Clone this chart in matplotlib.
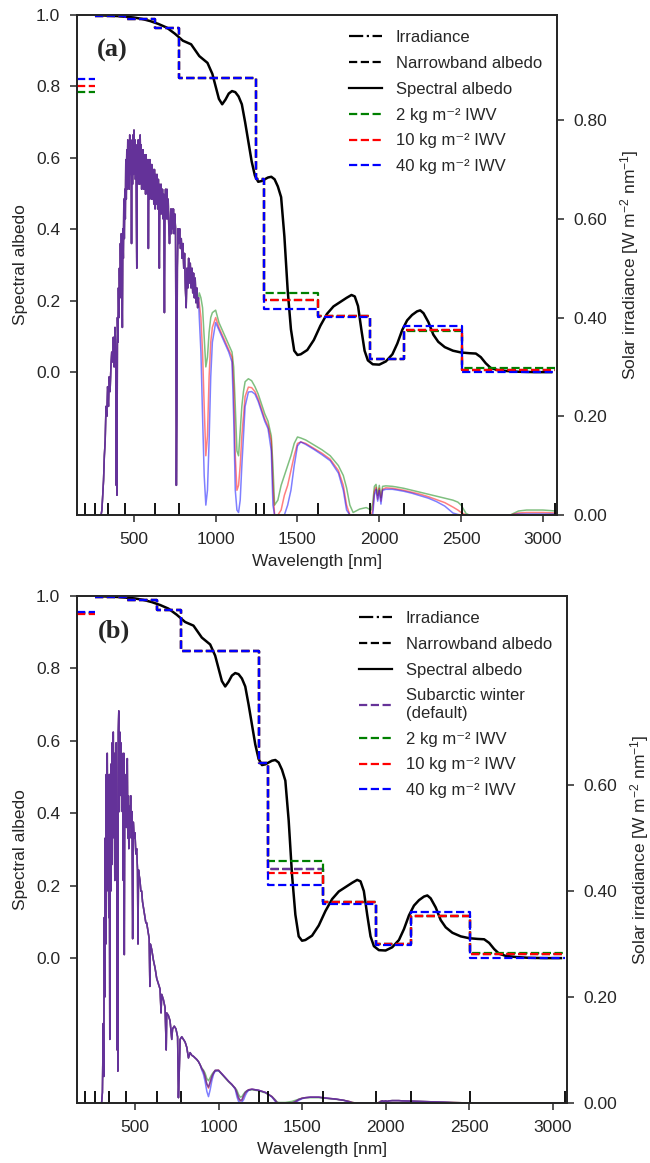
import numpy as np
import matplotlib
matplotlib.use("Agg")
import matplotlib.pyplot as plt
from matplotlib.lines import Line2D
from matplotlib.ticker import FormatStrFormatter

plt.rcParams['font.family'] = ['Liberation Sans', 'DejaVu Sans']
plt.rcParams['mathtext.fontset'] = 'custom'
plt.rcParams['mathtext.rm'] = 'Liberation Sans'
plt.rcParams['mathtext.it'] = 'Liberation Sans:italic'
plt.rcParams['mathtext.default'] = 'regular'
plt.rcParams['text.color'] = '.15'
plt.rcParams['axes.labelcolor'] = '.15'
plt.rcParams['xtick.color'] = '.15'
plt.rcParams['ytick.color'] = '.15'
plt.rcParams['axes.edgecolor'] = '.15'

# narrowband edges (nm), marked as inner ticks on the x axis
band_edges = [200, 260, 345, 445, 630, 777, 1245, 1295, 1628, 1945, 2150, 2503, 3075]
x_range = (153, 3086)

# spectral albedo (same snowpack in both panels)
alb_wl = [270, 300, 350, 400, 450, 500, 550, 600, 650, 700,
          750, 800, 850, 900, 950, 980, 1000, 1020, 1040, 1060,
          1080, 1100, 1120, 1140, 1160, 1180, 1200, 1220, 1240, 1260,
          1280, 1300, 1320, 1340, 1360, 1380, 1400, 1420, 1440, 1460,
          1480, 1500, 1520, 1560, 1600, 1640, 1680, 1720, 1760, 1800,
          1830, 1850, 1870, 1890, 1910, 1930, 1960, 2000, 2040, 2080,
          2110, 2140, 2170, 2200, 2230, 2250, 2270, 2300, 2330, 2360,
          2400, 2450, 2500, 2550, 2590, 2620, 2650, 2680, 2720, 2780,
          2850, 2950, 3050]
alb_val = [0.999, 0.999, 0.998, 0.997, 0.995, 0.993, 0.989, 0.983, 0.975, 0.965,
           0.948, 0.928, 0.918, 0.885, 0.866, 0.835, 0.800, 0.765, 0.750, 0.763,
           0.780, 0.787, 0.784, 0.772, 0.750, 0.700, 0.645, 0.590, 0.550, 0.533,
           0.535, 0.540, 0.545, 0.547, 0.540, 0.520, 0.490, 0.380, 0.230, 0.120,
           0.060, 0.048, 0.050, 0.062, 0.090, 0.130, 0.163, 0.184, 0.196, 0.208,
           0.216, 0.212, 0.185, 0.120, 0.060, 0.033, 0.022, 0.021, 0.030, 0.050,
           0.080, 0.118, 0.145, 0.160, 0.170, 0.173, 0.165, 0.140, 0.105, 0.085,
           0.070, 0.060, 0.055, 0.053, 0.052, 0.042, 0.025, 0.012, 0.006, 0.003,
           0.001, 0.000, 0.000]

# narrowband albedo per band, panel (a)
nb_black_a = [np.nan, 0.998, 0.997, 0.989, 0.963, 0.823, 0.541, 0.203, 0.156, 0.038, 0.119, 0.007]
nb_2_a = [0.785, 0.998, 0.997, 0.989, 0.963, 0.823, 0.541, 0.222, 0.157, 0.038, 0.114, 0.012]
nb_10_a = [0.800, 0.998, 0.997, 0.989, 0.963, 0.823, 0.541, 0.203, 0.156, 0.038, 0.119, 0.007]
nb_40_a = [0.820, 0.998, 0.997, 0.989, 0.963, 0.823, 0.541, 0.178, 0.153, 0.036, 0.130, 0.000]

# narrowband albedo per band, panel (b)
nb_black_b = [np.nan, 0.997, 0.997, 0.990, 0.962, 0.848, 0.539, 0.245, 0.154, 0.038, 0.117, 0.010]
nb_def_b = [0.952, 0.997, 0.997, 0.990, 0.962, 0.848, 0.539, 0.245, 0.154, 0.038, 0.117, 0.010]
nb_2_b = [0.952, 0.997, 0.997, 0.990, 0.962, 0.849, 0.539, 0.269, 0.156, 0.038, 0.115, 0.013]
nb_10_b = [0.951, 0.997, 0.997, 0.990, 0.962, 0.848, 0.539, 0.234, 0.154, 0.038, 0.117, 0.010]
nb_40_b = [0.956, 0.997, 0.997, 0.990, 0.962, 0.848, 0.539, 0.203, 0.149, 0.036, 0.128, 0.000]

# irradiance, visible part (shared by all IWV runs), panel (a)
vis_wl_a = [295, 300, 305, 310, 315, 320, 325, 330, 335, 340,
            345, 350, 355, 360, 365, 370, 375, 380, 385, 390,
            393, 395, 397, 400, 403, 406, 409, 412, 415, 418,
            421, 424, 427, 430, 433, 436, 439, 442, 445, 448,
            451, 454, 457, 460, 463, 466, 469, 472, 475, 478,
            481, 484, 486, 489, 492, 495, 498, 501, 504, 507,
            510, 513, 516, 518, 521, 524, 527, 530, 533, 536,
            539, 542, 545, 548, 551, 554, 557, 560, 563, 566,
            569, 572, 575, 578, 581, 584, 587, 589, 592, 595,
            598, 601, 604, 607, 610, 614, 618, 622, 626, 630,
            634, 638, 642, 646, 650, 653, 656, 659, 663, 667,
            671, 675, 679, 683, 687, 690, 694, 698, 702, 706,
            710, 714, 718, 722, 726, 730, 734, 738, 742, 746,
            750, 755, 760, 763, 766, 770, 775, 780, 785, 790,
            795, 800, 805, 810, 815, 820, 825, 830, 835, 840,
            845, 850, 855, 860, 865, 870, 875, 880, 885, 890,
            895]
vis_irr_a = [0.00, 0.00, 0.01, 0.04, 0.07, 0.12, 0.15, 0.22, 0.20, 0.26,
             0.22, 0.28, 0.25, 0.30, 0.33, 0.31, 0.36, 0.30, 0.38, 0.33,
             0.06, 0.30, 0.04, 0.40, 0.35, 0.46, 0.40, 0.50, 0.44, 0.55,
             0.48, 0.57, 0.50, 0.38, 0.58, 0.52, 0.64, 0.56, 0.66, 0.60,
             0.72, 0.64, 0.74, 0.66, 0.76, 0.68, 0.75, 0.66, 0.77, 0.69,
             0.76, 0.68, 0.55, 0.74, 0.67, 0.77, 0.69, 0.78, 0.70, 0.76,
             0.68, 0.75, 0.60, 0.50, 0.74, 0.67, 0.76, 0.68, 0.75, 0.67,
             0.77, 0.69, 0.75, 0.66, 0.74, 0.67, 0.74, 0.66, 0.73, 0.66,
             0.73, 0.65, 0.73, 0.66, 0.72, 0.65, 0.72, 0.54, 0.71, 0.64,
             0.72, 0.65, 0.71, 0.64, 0.71, 0.64, 0.70, 0.63, 0.70, 0.62,
             0.69, 0.63, 0.69, 0.62, 0.68, 0.62, 0.50, 0.67, 0.61, 0.67,
             0.61, 0.66, 0.60, 0.65, 0.41, 0.60, 0.66, 0.60, 0.66, 0.60,
             0.64, 0.58, 0.55, 0.58, 0.62, 0.57, 0.62, 0.58, 0.62, 0.57,
             0.61, 0.58, 0.06, 0.20, 0.50, 0.58, 0.55, 0.58, 0.54, 0.56,
             0.52, 0.55, 0.50, 0.53, 0.46, 0.42, 0.50, 0.46, 0.52, 0.47,
             0.51, 0.46, 0.50, 0.45, 0.49, 0.44, 0.48, 0.43, 0.46, 0.42,
             0.44]

# irradiance, visible part, panel (b) (subarctic winter default)
vis_wl_b = [300, 305, 310, 313, 316, 319, 322, 325, 328, 331,
            334, 337, 340, 343, 346, 349, 352, 355, 358, 361,
            364, 367, 370, 373, 376, 379, 382, 385, 388, 391,
            393, 395, 397, 400, 403, 406, 409, 412, 415, 418,
            421, 424, 427, 430, 433, 436, 439, 442, 445, 448,
            451, 454, 457, 460, 463, 466, 470, 474, 478, 482,
            486, 490, 495, 500, 505, 510, 515, 518, 521, 525,
            530, 535, 540, 545, 550, 555, 560, 565, 570, 575,
            580, 585, 589, 592, 600, 610, 620, 630, 640, 650,
            656, 660, 670, 680, 687, 690, 700, 710, 720, 725,
            735, 745, 755, 760, 765, 770, 780, 790, 800, 810,
            820, 830, 840, 850, 860, 870, 880, 890]
vis_irr_b = [0.00, 0.02, 0.15, 0.05, 0.35, 0.20, 0.50, 0.30, 0.62, 0.40,
             0.66, 0.45, 0.60, 0.35, 0.62, 0.12, 0.58, 0.40, 0.64, 0.45,
             0.68, 0.50, 0.70, 0.55, 0.66, 0.42, 0.64, 0.50, 0.68, 0.45,
             0.10, 0.55, 0.06, 0.70, 0.74, 0.55, 0.70, 0.60, 0.68, 0.58,
             0.66, 0.55, 0.64, 0.42, 0.66, 0.28, 0.62, 0.55, 0.60, 0.52,
             0.60, 0.65, 0.50, 0.58, 0.48, 0.56, 0.52, 0.58, 0.50, 0.55,
             0.31, 0.53, 0.50, 0.51, 0.47, 0.48, 0.44, 0.30, 0.44, 0.43,
             0.42, 0.40, 0.40, 0.38, 0.37, 0.36, 0.35, 0.34, 0.34, 0.33,
             0.32, 0.31, 0.22, 0.30, 0.29, 0.27, 0.255, 0.235, 0.225, 0.215,
             0.17, 0.205, 0.195, 0.18, 0.10, 0.17, 0.165, 0.155, 0.12, 0.14,
             0.145, 0.14, 0.125, 0.01, 0.06, 0.12, 0.125, 0.12, 0.115, 0.105,
             0.085, 0.095, 0.09, 0.088, 0.085, 0.082, 0.078, 0.072]

# irradiance, near infrared part (differs with IWV)
ir_wl = [900, 910, 920, 930, 940, 950, 960, 970, 980, 1000,
         1020, 1040, 1060, 1080, 1100, 1110, 1120, 1130, 1140, 1150,
         1160, 1170, 1180, 1200, 1220, 1240, 1260, 1280, 1300, 1320,
         1340, 1350, 1360, 1380, 1400, 1420, 1440, 1460, 1480, 1500,
         1520, 1550, 1600, 1650, 1700, 1750, 1780, 1800, 1820, 1840,
         1880, 1920, 1950, 1960, 1970, 1980, 1990, 2000, 2010, 2020,
         2040, 2080, 2100, 2150, 2200, 2250, 2300, 2350, 2400, 2450,
         2480, 2500, 2530, 2550, 2800, 2850, 2900, 2950, 3000, 3080]

ir_2_a = [0.45, 0.44, 0.42, 0.36, 0.30, 0.32, 0.37, 0.40, 0.41, 0.415,
          0.39, 0.375, 0.36, 0.345, 0.33, 0.30, 0.22, 0.13, 0.12, 0.17,
          0.22, 0.25, 0.27, 0.276, 0.272, 0.26, 0.245, 0.225, 0.205, 0.19,
          0.16, 0.10, 0.02, 0.03, 0.06, 0.08, 0.10, 0.12, 0.145, 0.158,
          0.156, 0.152, 0.142, 0.132, 0.12, 0.10, 0.08, 0.055, 0.02, 0.005,
          0.012, 0.015, 0.01, 0.025, 0.058, 0.062, 0.04, 0.06, 0.035, 0.058,
          0.059, 0.058, 0.057, 0.054, 0.05, 0.046, 0.042, 0.038, 0.034, 0.03,
          0.026, 0.02, 0.003, 0.0, 0.0, 0.008, 0.01, 0.01, 0.01, 0.008]
ir_10_a = [0.43, 0.40, 0.33, 0.22, 0.12, 0.16, 0.28, 0.35, 0.38, 0.40,
           0.38, 0.365, 0.35, 0.335, 0.32, 0.26, 0.12, 0.05, 0.06, 0.10,
           0.16, 0.20, 0.24, 0.259, 0.258, 0.25, 0.235, 0.215, 0.195, 0.18,
           0.15, 0.06, 0.0, 0.0, 0.01, 0.04, 0.06, 0.09, 0.12, 0.145,
           0.148, 0.145, 0.135, 0.125, 0.113, 0.09, 0.06, 0.02, 0.0, 0.0,
           0.0, 0.0, 0.0, 0.01, 0.048, 0.056, 0.032, 0.054, 0.028, 0.052,
           0.055, 0.054, 0.053, 0.05, 0.046, 0.042, 0.037, 0.031, 0.025, 0.016,
           0.01, 0.005, 0.0, 0.0, 0.0, 0.004, 0.005, 0.005, 0.005, 0.004]
ir_40_a = [0.40, 0.33, 0.20, 0.08, 0.02, 0.05, 0.15, 0.28, 0.35, 0.39,
           0.375, 0.36, 0.345, 0.33, 0.31, 0.20, 0.05, 0.01, 0.005, 0.03,
           0.10, 0.16, 0.22, 0.249, 0.25, 0.245, 0.23, 0.21, 0.19, 0.175,
           0.13, 0.02, 0.0, 0.0, 0.0, 0.0, 0.02, 0.05, 0.10, 0.14,
           0.148, 0.143, 0.133, 0.122, 0.11, 0.085, 0.05, 0.01, 0.0, 0.0,
           0.0, 0.0, 0.0, 0.0, 0.04, 0.052, 0.028, 0.05, 0.022, 0.05,
           0.052, 0.052, 0.051, 0.048, 0.044, 0.039, 0.034, 0.027, 0.018, 0.004,
           0.001, 0.0, 0.0, 0.0, 0.0, 0.002, 0.002, 0.002, 0.002, 0.002]

ir_def_b = [0.065, 0.060, 0.050, 0.036, 0.030, 0.040, 0.050, 0.057, 0.062, 0.062,
            0.055, 0.048, 0.041, 0.035, 0.028, 0.020, 0.010, 0.005, 0.006, 0.014,
            0.020, 0.023, 0.025, 0.026, 0.025, 0.024, 0.022, 0.020, 0.016, 0.012,
            0.005, 0.001, 0.0, 0.0, 0.0, 0.0, 0.0, 0.003, 0.007, 0.009,
            0.010, 0.011, 0.011, 0.009, 0.0075, 0.005, 0.003, 0.001, 0.0, 0.0,
            0.0, 0.0, 0.0, 0.001, 0.003, 0.004, 0.003, 0.004, 0.003, 0.004,
            0.0045, 0.0045, 0.004, 0.0035, 0.003, 0.0025, 0.002, 0.0015, 0.001, 0.0005,
            0.0, 0.0, 0.0, 0.0, 0.0, 0.0, 0.0, 0.0, 0.0, 0.0]
ir_2_b = [0.066, 0.062, 0.056, 0.046, 0.042, 0.048, 0.054, 0.058, 0.061, 0.061,
          0.054, 0.047, 0.040, 0.034, 0.028, 0.024, 0.016, 0.011, 0.012, 0.017,
          0.021, 0.023, 0.024, 0.025, 0.024, 0.023, 0.021, 0.019, 0.016, 0.012,
          0.006, 0.002, 0.001, 0.001, 0.001, 0.002, 0.003, 0.005, 0.007, 0.009,
          0.010, 0.010, 0.010, 0.0085, 0.007, 0.005, 0.003, 0.001, 0.0, 0.0,
          0.0, 0.0, 0.0, 0.001, 0.003, 0.004, 0.003, 0.004, 0.003, 0.004,
          0.0045, 0.0045, 0.004, 0.0035, 0.003, 0.0025, 0.002, 0.0015, 0.001, 0.0005,
          0.0, 0.0, 0.0, 0.0, 0.0, 0.0, 0.0, 0.0, 0.0, 0.0]
ir_10_b = [0.064, 0.059, 0.049, 0.035, 0.028, 0.038, 0.049, 0.056, 0.061, 0.062,
           0.055, 0.048, 0.041, 0.035, 0.027, 0.018, 0.008, 0.004, 0.005, 0.012,
           0.019, 0.022, 0.025, 0.026, 0.025, 0.024, 0.022, 0.020, 0.016, 0.012,
           0.004, 0.001, 0.0, 0.0, 0.0, 0.0, 0.0, 0.002, 0.006, 0.009,
           0.010, 0.011, 0.011, 0.009, 0.0075, 0.005, 0.003, 0.001, 0.0, 0.0,
           0.0, 0.0, 0.0, 0.001, 0.003, 0.004, 0.003, 0.004, 0.003, 0.004,
           0.0045, 0.0045, 0.004, 0.0035, 0.003, 0.0025, 0.002, 0.0015, 0.001, 0.0005,
           0.0, 0.0, 0.0, 0.0, 0.0, 0.0, 0.0, 0.0, 0.0, 0.0]
ir_40_b = [0.062, 0.054, 0.040, 0.022, 0.012, 0.025, 0.042, 0.054, 0.060, 0.061,
           0.055, 0.048, 0.041, 0.035, 0.026, 0.012, 0.003, 0.001, 0.002, 0.006,
           0.014, 0.020, 0.024, 0.026, 0.025, 0.024, 0.022, 0.020, 0.016, 0.011,
           0.003, 0.0, 0.0, 0.0, 0.0, 0.0, 0.0, 0.001, 0.005, 0.008,
           0.010, 0.011, 0.011, 0.009, 0.0075, 0.005, 0.002, 0.0, 0.0, 0.0,
           0.0, 0.0, 0.0, 0.0, 0.002, 0.004, 0.003, 0.004, 0.003, 0.004,
           0.0045, 0.0045, 0.004, 0.0035, 0.003, 0.0025, 0.002, 0.0015, 0.0005, 0.0,
           0.0, 0.0, 0.0, 0.0, 0.0, 0.0, 0.0, 0.0, 0.0, 0.0]

iwv_labels = ['2 kg m\u207b\u00b2 IWV', '10 kg m\u207b\u00b2 IWV', '40 kg m\u207b\u00b2 IWV']
iwv_colors = ['green', 'red', 'blue']
def_color = 'rebeccapurple'


def steps(ax, vals, color, lw=1.6):
    # first band drawn on its own, the rest as a connected step line
    ax.plot([x_range[0], band_edges[1]], [vals[0], vals[0]], color=color, ls='--', lw=lw)
    x = band_edges[1:]
    y = np.r_[vals[1:], vals[-1]]
    ax.plot(x, y, color=color, ls='--', lw=lw, drawstyle='steps-post')


def panel(rect, label, vis_wl, vis_irr, ir_list, nb_black, nb_list,
          ir_def=None, nb_def=None, irr_top=1.0, irr_ticks=()):
    ax = fig.add_axes(rect)
    ax2 = ax.twinx()
    ax.set_zorder(ax2.get_zorder() + 1)
    ax.patch.set_visible(False)

    # irradiance on right axis
    for irr, c in zip(ir_list, iwv_colors):
        ax2.plot(np.r_[vis_wl, ir_wl], np.r_[vis_irr, irr], color=c, lw=1.1, alpha=0.5)
    if ir_def is not None:
        ax2.plot(np.r_[vis_wl, ir_wl], np.r_[vis_irr, ir_def], color=def_color, lw=1.1, alpha=0.85)
    else:
        ax2.plot(vis_wl, vis_irr, color=def_color, lw=1.1, alpha=0.85)

    # albedo on left axis
    ax.plot(alb_wl, alb_val, color='k', lw=1.8)
    steps(ax, nb_black, 'k')
    if nb_def is not None:
        steps(ax, nb_def, def_color)
    for nb, c in zip(nb_list, iwv_colors):
        steps(ax, nb, c)

    ax.set_xlim(*x_range)
    ax.set_ylim(-0.4, 1.0)
    ax.set_yticks([0.0, 0.2, 0.4, 0.6, 0.8, 1.0])
    ax.yaxis.set_major_formatter(FormatStrFormatter('%.1f'))
    ax.set_xticks([500, 1000, 1500, 2000, 2500, 3000])
    ax.set_xticks(band_edges, minor=True)
    ax.tick_params(axis='x', which='minor', direction='in', length=8.5, width=1.3, color='k')
    ax.tick_params(axis='both', which='major', direction='out', length=5, width=1.1,
                   labelsize=12.5, pad=7)
    ax.set_xlabel('Wavelength [nm]', fontsize=12.5, labelpad=5)
    ax.set_ylabel('Spectral albedo', fontsize=12.5, labelpad=6)

    ax2.set_ylim(0, irr_top)
    ax2.set_yticks(irr_ticks)
    ax2.yaxis.set_major_formatter(FormatStrFormatter('%.2f'))
    ax2.tick_params(axis='y', direction='out', length=5, width=1.1, labelsize=12.5, pad=7)
    ax2.set_ylabel('Solar irradiance [W m$^{-2}$ nm$^{-1}$]', fontsize=12.5, labelpad=8)
    for a in (ax, ax2):
        for s in a.spines.values():
            s.set_linewidth(1.3)

    handles = [Line2D([], [], color='k', ls='-.', lw=1.6, label='Irradiance'),
               Line2D([], [], color='k', ls='--', lw=1.6, label='Narrowband albedo'),
               Line2D([], [], color='k', ls='-', lw=1.6, label='Spectral albedo')]
    if nb_def is not None:
        handles.append(Line2D([], [], color=def_color, ls='--', lw=1.6,
                              label='Subarctic winter\n(default)'))
    for lab, c in zip(iwv_labels, iwv_colors):
        handles.append(Line2D([], [], color=c, ls='--', lw=1.6, label=lab))
    ax.legend(handles=handles, loc='upper right', frameon=False, fontsize=12,
              labelspacing=0.65)

    ax.text(0.042, 0.93, label, transform=ax.transAxes, ha='left', va='center',
            fontsize=19, fontweight='bold', family=['Liberation Serif', 'DejaVu Serif'])
    return ax


fig = plt.figure(figsize=(6.5, 11.63), dpi=100)

panel([0.1185, 0.5572, 0.7385, 0.4299], '(a)', vis_wl_a, vis_irr_a,
      [ir_2_a, ir_10_a, ir_40_a], nb_black_a, [nb_2_a, nb_10_a, nb_40_a],
      irr_top=1.013, irr_ticks=[0.0, 0.2, 0.4, 0.6, 0.8])

panel([0.1185, 0.0516, 0.7538, 0.4360], '(b)', vis_wl_b, vis_irr_b,
      [ir_2_b, ir_10_b, ir_40_b], nb_black_b, [nb_2_b, nb_10_b, nb_40_b],
      ir_def=ir_def_b, nb_def=nb_def_b,
      irr_top=0.957, irr_ticks=[0.0, 0.2, 0.4, 0.6])

fig.savefig('out.png', dpi=100)
